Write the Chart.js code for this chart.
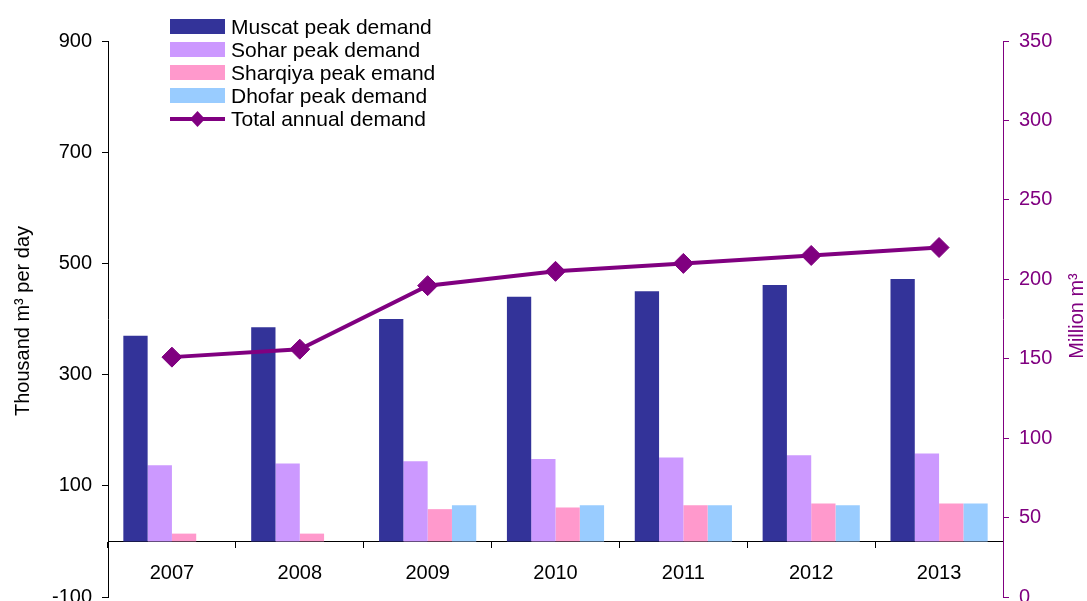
<!DOCTYPE html>
<html>
<head>
<meta charset="utf-8">
<title>Peak and annual water demand</title>
<script src="https://cdn.jsdelivr.net/npm/chart.js@4/dist/chart.umd.min.js"></script>
<style>
  html, body { margin: 0; padding: 0; background: #fff; overflow: hidden; }
  #wrap { position: relative; width: 1087px; height: 601px; overflow: hidden; }
  #legend {
    position: absolute; left: 170px; top: 15px;
    font: 21px 'Liberation Sans', Arial, sans-serif; color: #000;
  }
  #legend .row { display: flex; align-items: center; height: 23px; white-space: nowrap; }
  #legend .sw { width: 55px; height: 15px; margin-right: 6px; flex: none; }
  #legend svg { margin-right: 6px; flex: none; }
</style>
</head>
<body>
<div id="wrap">
  <canvas id="demandChart" width="1087" height="608"></canvas>
  <div id="legend"></div>
</div>
<script>
const years = ['2007', '2008', '2009', '2010', '2011', '2012', '2013'];

// peak demand, thousand m3 per day
const muscatPeak = [370, 385, 400, 440, 450, 461, 472];
const soharPeak = [137, 140, 144, 148, 151, 155, 158];
const sharqiyaPeak = [14, 14, 58, 61, 65, 68, 68];
const dhofarPeak = [null, null, 65, 65, 65, 65, 68];

// total annual demand, million m3
const totalAnnual = [151, 156, 196, 205, 210, 215, 220];

const leftAxis = { min: -100, max: 900, step: 200 };
const rightAxis = { min: 0, max: 350, step: 50 };

const purple = '#800080';
const fontFamily = "'Liberation Sans', Arial, sans-serif";
const tickFont = { family: fontFamily, size: 20 };

const barSeries = [
  { label: 'Muscat peak demand', data: muscatPeak, color: '#333399' },
  { label: 'Sohar peak demand', data: soharPeak, color: '#cc99ff' },
  { label: 'Sharqiya peak emand', data: sharqiyaPeak, color: '#ff99cc' },
  { label: 'Dhofar peak demand', data: dhofarPeak, color: '#99ccff' }
];
const lineLabel = 'Total annual demand';

// rotated axis titles (the right one reads bottom-to-top as well)
const axisTitles = {
  id: 'axisTitles',
  afterDraw(chart) {
    const { ctx, chartArea } = chart;
    const mid = (chartArea.top + chartArea.bottom) / 2;
    ctx.save();
    ctx.font = '20px ' + fontFamily;
    ctx.textAlign = 'center';
    ctx.textBaseline = 'middle';

    ctx.save();
    ctx.translate(23, mid + 2);
    ctx.rotate(-Math.PI / 2);
    ctx.fillStyle = '#000';
    ctx.fillText('Thousand m\u00b3 per day', 0, 0);
    ctx.restore();

    ctx.translate(1077, mid - 3);
    ctx.rotate(-Math.PI / 2);
    ctx.fillStyle = purple;
    ctx.fillText('Million m\u00b3', 0, 0);
    ctx.restore();
  }
};

const datasets = barSeries.map(s => ({
  type: 'bar',
  label: s.label,
  data: s.data,
  backgroundColor: s.color,
  borderWidth: 0,
  yAxisID: 'y',
  order: 1
}));

datasets.push({
  type: 'line',
  label: lineLabel,
  data: totalAnnual,
  borderColor: purple,
  backgroundColor: purple,
  borderWidth: 4,
  pointStyle: 'rectRot',
  pointRadius: 10,
  pointBackgroundColor: purple,
  pointBorderColor: purple,
  pointBorderWidth: 1,
  tension: 0,
  yAxisID: 'y1',
  order: 0
});

new Chart(document.getElementById('demandChart'), {
  type: 'bar',
  data: { labels: years, datasets },
  options: {
    responsive: false,
    animation: false,
    layout: { padding: { top: 41, bottom: 4, left: 0, right: 0 } },
    datasets: { bar: { categoryPercentage: 0.76, barPercentage: 1 } },
    plugins: {
      legend: { display: false },
      tooltip: { enabled: false }
    },
    scales: {
      x: {
        position: { y: 0 },
        offset: true,
        grid: { offset: true, drawOnChartArea: false, tickLength: 6, color: '#000' },
        border: { color: '#000', width: 1 },
        ticks: { color: '#000', font: tickFont, padding: 14, maxRotation: 0 }
      },
      y: {
        position: 'left',
        min: leftAxis.min,
        max: leftAxis.max,
        ticks: { stepSize: leftAxis.step, color: '#000', font: tickFont, padding: 10 },
        grid: { drawOnChartArea: false, tickLength: 6, color: '#000' },
        border: { color: '#000', width: 1 },
        afterFit: s => { s.width = 108; s.paddingTop = 0; s.paddingBottom = 0; }
      },
      y1: {
        position: 'right',
        min: rightAxis.min,
        max: rightAxis.max,
        ticks: { stepSize: rightAxis.step, color: purple, font: tickFont, padding: 10 },
        grid: { drawOnChartArea: false, tickLength: 6, color: purple },
        border: { color: purple, width: 1 },
        afterFit: s => { s.width = 84; s.paddingTop = 0; s.paddingBottom = 0; }
      }
    }
  },
  plugins: [axisTitles]
});

// legend block over the top-left of the plot
const legendEl = document.getElementById('legend');
barSeries.forEach(s => {
  const row = document.createElement('div');
  row.className = 'row';
  row.innerHTML = '<span class="sw" style="background:' + s.color + '"></span><span>' + s.label + '</span>';
  legendEl.appendChild(row);
});
const lineRow = document.createElement('div');
lineRow.className = 'row';
lineRow.innerHTML =
  '<svg width="55" height="18" viewBox="0 0 55 18">' +
  '<line x1="0" y1="9" x2="55" y2="9" stroke="' + purple + '" stroke-width="4"/>' +
  '<polygon points="27.5,1 35,9 27.5,17 20,9" fill="' + purple + '"/></svg>' +
  '<span>' + lineLabel + '</span>';
legendEl.appendChild(lineRow);
</script>
</body>
</html>
